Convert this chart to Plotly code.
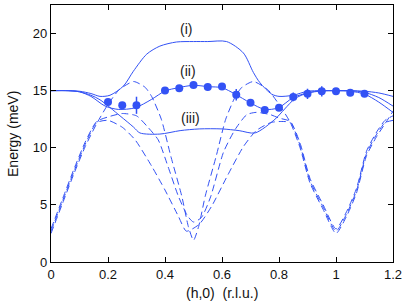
import plotly.graph_objects as go

BLUE = "#3352f5"

# Solid branches (i), (ii), (iii)
h_i = [0, 0.05, 0.10, 0.14, 0.172, 0.207, 0.254, 0.289, 0.336, 0.382, 0.44, 0.5, 0.55, 0.616, 0.675, 0.71, 0.733, 0.774, 0.80, 0.85, 0.9, 0.95, 1.0, 1.05, 1.1, 1.15, 1.2]
E_i = [15.0, 15.0, 14.95, 14.75, 14.5, 14.6, 15.4, 16.7, 18.2, 18.9, 19.26, 19.3, 19.3, 19.3, 18.3, 16.6, 15.7, 14.7, 14.5, 14.6, 14.95, 15.0, 15.0, 15.0, 14.95, 14.8, 14.5]

h_ii = [0, 0.06, 0.10, 0.14, 0.19, 0.236, 0.295, 0.353, 0.40, 0.447, 0.50, 0.552, 0.60, 0.646, 0.698, 0.75, 0.798, 0.85, 0.90, 0.95, 1.0, 1.05, 1.1, 1.15, 1.2]
E_ii = [15.0, 15.0, 14.9, 14.5, 13.65, 13.36, 13.5, 14.24, 14.97, 15.26, 15.47, 15.35, 15.26, 14.7, 13.95, 13.36, 13.5, 14.4, 14.8, 14.97, 15.0, 15.0, 14.85, 14.4, 13.65]

h_iii = [0, 0.06, 0.10, 0.14, 0.172, 0.242, 0.29, 0.312, 0.382, 0.453, 0.52, 0.60, 0.66, 0.716, 0.786, 0.82, 0.856, 0.90, 0.95, 1.0, 1.05, 1.1, 1.15, 1.2]
E_iii = [15.0, 15.0, 14.9, 14.6, 14.2, 12.8, 11.8, 11.3, 11.2, 11.5, 11.65, 11.65, 11.5, 11.3, 12.5, 13.4, 14.3, 14.8, 15.0, 15.0, 14.95, 14.7, 14.0, 13.1]

# Dashed (acoustic) branches A, B, C
h_A = [0, 0.04, 0.08, 0.12, 0.16, 0.20, 0.24, 0.29, 0.33, 0.353, 0.387, 0.42, 0.459, 0.482, 0.50, 0.518, 0.541, 0.58, 0.613, 0.647, 0.67, 0.71, 0.76, 0.80, 0.84, 0.874, 0.909, 0.955, 1.0, 1.037, 1.072, 1.107, 1.143, 1.172, 1.2]
E_A = [2.5, 5.1, 7.7, 10.1, 12.1, 13.8, 15.1, 15.8, 15.3, 14.5, 12.5, 9.3, 5.75, 3.1, 1.9, 3.1, 5.75, 9.3, 12.5, 14.5, 15.3, 15.8, 15.1, 13.8, 12.2, 10.0, 6.9, 4.6, 2.5, 4.0, 6.05, 9.3, 11.0, 12.1, 13.2]

h_B = [0, 0.04, 0.08, 0.12, 0.16, 0.20, 0.25, 0.295, 0.353, 0.40, 0.447, 0.475, 0.52, 0.564, 0.62, 0.675, 0.72, 0.77, 0.80, 0.84, 0.874, 0.909, 0.955, 1.0, 1.037, 1.072, 1.107, 1.143, 1.172, 1.2]
E_B = [2.7, 5.3, 7.9, 10.3, 12.2, 12.4, 11.8, 10.7, 8.4, 6.3, 4.0, 2.7, 3.3, 4.9, 7.6, 10.1, 11.5, 12.2, 12.3, 12.2, 10.2, 7.1, 4.8, 2.7, 4.2, 6.25, 9.5, 11.2, 12.2, 12.4]

h_C = [0, 0.04, 0.08, 0.12, 0.16, 0.20, 0.25, 0.30, 0.34, 0.376, 0.41, 0.447, 0.48, 0.50, 0.528, 0.56, 0.605, 0.646, 0.687, 0.72, 0.77, 0.80, 0.84, 0.874, 0.909, 0.955, 1.0, 1.037, 1.072, 1.107, 1.143, 1.172, 1.2]
E_C = [2.9, 5.5, 8.1, 10.5, 12.3, 12.7, 13.0, 12.8, 11.8, 10.7, 8.4, 5.75, 4.0, 3.5, 3.9, 5.7, 9.6, 11.6, 12.9, 13.1, 12.9, 12.6, 12.3, 10.4, 7.3, 5.0, 2.9, 4.4, 6.45, 9.7, 11.4, 12.4, 12.8]

# Measured points
h_data = [0.20, 0.25, 0.30, 0.40, 0.45, 0.50, 0.55, 0.60, 0.65, 0.70, 0.75, 0.80, 0.85, 0.90, 0.95, 1.00, 1.05, 1.10]
E_data = [14.0, 13.72, 13.72, 15.02, 15.22, 15.5, 15.32, 15.36, 14.65, 13.95, 13.3, 13.5, 14.45, 14.72, 14.94, 14.94, 14.82, 14.74]
E_err = [0, 0, 0.75, 0.0, 0.0, 0.0, 0.3, 0.0, 0.5, 0, 0, 0, 0.38, 0.45, 0.45, 0, 0, 0]

x_ticks = [0, 0.2, 0.4, 0.6, 0.8, 1.0, 1.2]
x_tick_text = ["0", "0.2", "0.4", "0.6", "0.8", "1", "1.2"]
y_ticks = [0, 5, 10, 15, 20]
labels = ["(i)", "(ii)", "(iii)"]
label_h = [0.475, 0.479, 0.488]
label_E = [20.4, 16.7, 12.6]

FONT = "Liberation Sans, Arial, sans-serif"

fig = go.Figure()

for hx, ey in [(h_A, E_A), (h_B, E_B), (h_C, E_C)]:
    fig.add_trace(go.Scatter(x=hx, y=ey, mode="lines",
                             line=dict(color=BLUE, width=1, dash="7px,4px", shape="spline", smoothing=0.6),
                             hoverinfo="skip", showlegend=False))

for hx, ey in [(h_i, E_i), (h_ii, E_ii), (h_iii, E_iii)]:
    fig.add_trace(go.Scatter(x=hx, y=ey, mode="lines",
                             line=dict(color=BLUE, width=1, shape="spline", smoothing=0.8),
                             hoverinfo="skip", showlegend=False))

fig.add_trace(go.Scatter(x=h_data, y=E_data, mode="markers",
                         marker=dict(color=BLUE, size=8, line=dict(width=0)),
                         error_y=dict(type="data", array=E_err, visible=True, color=BLUE, thickness=1.5, width=0),
                         showlegend=False))

for t, hx, ey in zip(labels, label_h, label_E):
    fig.add_annotation(x=hx, y=ey, text=t, showarrow=False,
                       font=dict(family=FONT, size=14, color="#222"))

fig.add_annotation(xref="paper", yref="paper", x=0.5, y=-0.12, yanchor="middle",
                   text="(h,0)  (r.l.u.)", showarrow=False,
                   font=dict(family=FONT, size=14, color="#111"))
fig.add_annotation(xref="paper", yref="paper", x=-0.1126, y=0.5, xanchor="center", yanchor="middle",
                   text="Energy (meV)", textangle=-90, showarrow=False,
                   font=dict(family=FONT, size=14, color="#111"))

axis_common = dict(showgrid=False, zeroline=False, showline=True, linecolor="black", linewidth=1.3,
                   mirror="ticks", ticks="inside", ticklen=5, tickwidth=1, tickcolor="black",
                   automargin=False,
                   tickfont=dict(family=FONT, size=13, color="#111"))

fig.update_xaxes(range=[0, 1.2], tickvals=x_ticks, ticktext=x_tick_text, **axis_common)
fig.update_yaxes(range=[0, 22.5], tickvals=y_ticks, **axis_common)

fig.update_layout(width=409, height=308, margin=dict(l=51, r=16, t=5, b=46),
                  plot_bgcolor="white", paper_bgcolor="white", showlegend=False)

fig.write_html("out.html", config={"displayModeBar": False},
               post_script="document.body.style.margin='0';document.body.style.padding='0';document.body.style.overflow='hidden';")
